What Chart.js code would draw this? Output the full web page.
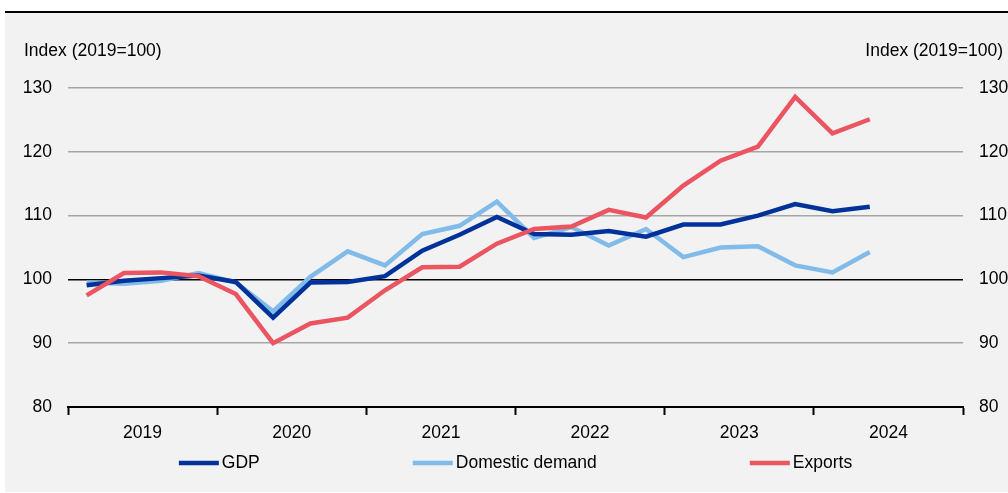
<!DOCTYPE html>
<html>
<head>
<meta charset="utf-8">
<script src="https://cdn.jsdelivr.net/npm/chart.js@4.4.1/dist/chart.umd.min.js"></script>
<style>
  html, body { margin: 0; padding: 0; background: #fff; }
  #panel { position: absolute; left: 5px; top: 11px; width: 1003px; height: 479px; background: #f2f2f2; border-top: 2px solid #000; }
  canvas { display: block; }
</style>
</head>
<body>
<div id="panel"><canvas id="chart" width="1003" height="479"></canvas></div>
<script>
// quarterly data, 2019 Q1 - 2024 Q2
const years = ["2019", "2020", "2021", "2022", "2023", "2024"];
const yTicks = [80, 90, 100, 110, 120, 130];
const axisTitle = "Index (2019=100)";

const gdp = [99.1, 99.8, 100.2, 100.6, 99.6, 94.0, 99.5, 99.6, 100.5, 104.5, 107.0, 109.8,
  107.1, 107.0, 107.6, 106.7, 108.6, 108.6, 110.0, 111.8, 110.7, 111.4];
const domesticDemand = [99.5, 99.3, 99.8, 101.0, 99.5, 95.0, 100.4, 104.4, 102.2, 107.1, 108.4, 112.2,
  106.5, 108.2, 105.3, 107.9, 103.5, 105.0, 105.2, 102.2, 101.1, 104.3];
const exportsIdx = [97.5, 101.0, 101.1, 100.5, 97.7, 90.0, 93.1, 94.0, 98.3, 101.9, 102.0, 105.6,
  107.9, 108.3, 110.9, 109.7, 114.7, 118.6, 120.8, 128.6, 122.9, 125.1];

const FONT_FAMILY = "'Liberation Sans', Arial, sans-serif";
const FONT_SIZE = 17.5;
Chart.defaults.font.family = FONT_FAMILY;
Chart.defaults.font.size = FONT_SIZE;
Chart.defaults.color = "#000";

// quarter i sits in the middle of its slot on a 0..24 linear axis
const toPoints = arr => arr.map((v, i) => ({ x: i + 0.5, y: v }));

// axis titles top left / top right
const titlesPlugin = {
  id: "titles",
  afterDraw(chart) {
    const { ctx, chartArea } = chart;
    ctx.save();
    ctx.font = `${FONT_SIZE}px ${FONT_FAMILY}`;
    ctx.fillStyle = "#000";
    ctx.textBaseline = "middle";
    const y = chartArea.top - 37;
    ctx.textAlign = "left";
    ctx.fillText(axisTitle, chart.scales.y.left, y);
    ctx.textAlign = "right";
    ctx.fillText(axisTitle, chart.width - 5, y);
    ctx.restore();
  }
};

// legend drawn under the axis, centred on the plot area
const legendPlugin = {
  id: "bottomLegend",
  afterDraw(chart) {
    const { ctx, chartArea } = chart;
    ctx.save();
    ctx.font = `${FONT_SIZE}px ${FONT_FAMILY}`;
    ctx.textBaseline = "middle";
    const boxW = 40, textGap = 3, gap = 153;
    const items = chart.data.datasets.map(ds => ({ ds, w: boxW + textGap + ctx.measureText(ds.label).width }));
    const total = items.reduce((s, it) => s + it.w, 0) + gap * (items.length - 1);
    let x = (chartArea.left + chartArea.right) / 2 - total / 2;
    const y = chart.height - 29;
    items.forEach(it => {
      ctx.strokeStyle = it.ds.borderColor;
      ctx.lineWidth = 4.5;
      ctx.beginPath();
      ctx.moveTo(x, y);
      ctx.lineTo(x + boxW, y);
      ctx.stroke();
      ctx.fillStyle = "#000";
      ctx.textAlign = "left";
      ctx.fillText(it.ds.label, x + boxW + textGap, y);
      x += it.w + gap;
    });
    ctx.restore();
  }
};

new Chart(document.getElementById("chart"), {
  type: "line",
  data: {
    datasets: [
      { label: "GDP", data: toPoints(gdp), borderColor: "#003299", order: 1 },
      { label: "Domestic demand", data: toPoints(domesticDemand), borderColor: "#80bbea", order: 2 },
      { label: "Exports", data: toPoints(exportsIdx), borderColor: "#eb5461", order: 0 }
    ]
  },
  options: {
    responsive: false,
    animation: false,
    elements: {
      line: { borderWidth: 4.5, tension: 0, borderJoinStyle: "miter" },
      point: { radius: 0 }
    },
    layout: { padding: { left: 19, right: 0, top: 75, bottom: 40 } },
    plugins: { legend: { display: false }, tooltip: { enabled: false } },
    scales: {
      x: {
        type: "linear",
        min: 0,
        max: years.length * 4,
        afterBuildTicks: axis => {
          const t = [];
          for (let v = 0; v <= years.length * 4; v += 2) t.push({ value: v });
          axis.ticks = t;
        },
        ticks: {
          autoSkip: false,
          maxRotation: 0,
          padding: 8,
          callback: v => (v % 4 === 2 ? years[(v - 2) / 4] : "")
        },
        grid: {
          drawOnChartArea: false,
          tickLength: 8,
          tickWidth: 2,
          tickColor: ctx => (ctx.tick && ctx.tick.value % 4 === 0 ? "#000" : "rgba(0,0,0,0)")
        },
        border: { color: "#000", width: 2 }
      },
      y: {
        position: "left",
        min: yTicks[0],
        max: yTicks[yTicks.length - 1],
        afterBuildTicks: axis => { axis.ticks = yTicks.map(v => ({ value: v })); },
        afterFit: axis => { axis.width = 44; },
        ticks: { padding: 16 },
        grid: {
          drawTicks: false,
          lineWidth: 1.5,
          color: ctx => (ctx.tick.value === 100 ? "#000" : ctx.tick.value === 80 ? "rgba(0,0,0,0)" : "#a6a6a6")
        },
        border: { display: false }
      },
      y2: {
        position: "right",
        min: yTicks[0],
        max: yTicks[yTicks.length - 1],
        afterBuildTicks: axis => { axis.ticks = yTicks.map(v => ({ value: v })); },
        afterFit: axis => { axis.width = 45; },
        ticks: { padding: 16 },
        grid: { drawOnChartArea: false, drawTicks: false },
        border: { display: false }
      }
    }
  },
  plugins: [titlesPlugin, legendPlugin]
});
</script>
</body>
</html>
